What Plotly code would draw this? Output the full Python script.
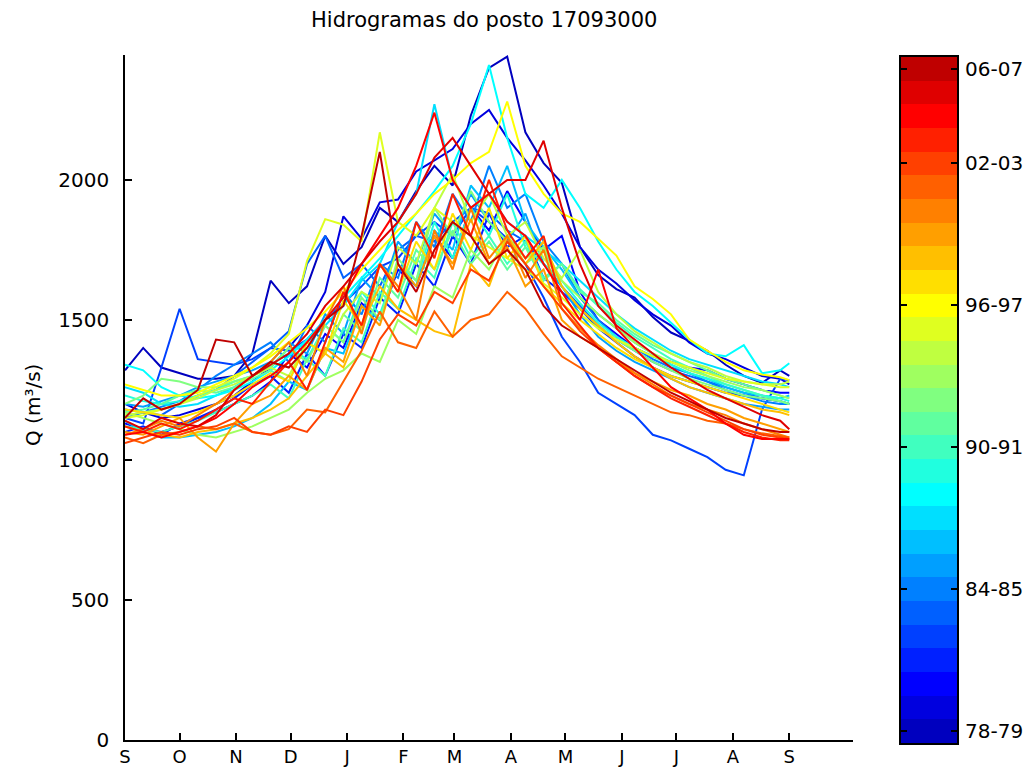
import math
import plotly.graph_objects as go

# Daily-flow hydrographs, one line per hydrological year (Sep -> Aug),
# sampled every 10 days from 1 September (day 0) plus the last day.
dias = list(range(0, 361, 10)) + [365]

anos = ["78-79", "79-80", "80-81", "81-82", "82-83", "83-84", "84-85", "85-86",
        "86-87", "87-88", "88-89", "89-90", "90-91", "91-92", "92-93", "93-94",
        "94-95", "95-96", "96-97", "97-98", "98-99", "99-00", "00-01", "01-02",
        "02-03", "03-04", "04-05", "05-06", "06-07"]

# Discharge Q (m3/s)
q_7879 = [1320, 1400, 1330, 1310, 1290, 1290, 1300, 1380, 1640, 1560,
          1620, 1800, 1700, 1760, 1900, 1850, 1960, 2050, 1980, 2230,
          2400, 2440, 2170, 2060, 1990, 1760, 1660, 1610, 1580, 1510,
          1455, 1425, 1390, 1340, 1300, 1275, 1320, 1300]
q_7980 = [1200, 1170, 1150, 1160, 1180, 1200, 1230, 1280, 1330, 1400,
          1480, 1600, 1870, 1790, 1920, 1930, 2030, 2070, 2110, 2200,
          2250, 2150, 2070, 1980, 1880, 1760, 1680, 1630, 1570, 1520,
          1480, 1420, 1380, 1360, 1330, 1300, 1290, 1270]
q_8081 = [1130, 1110, 1100, 1120, 1150, 1170, 1200, 1230, 1280, 1380,
          1330, 1450, 1400, 1560, 1500, 1680, 1620, 1800, 1720, 1900,
          1820, 1960, 1850, 1750, 1800, 1600, 1500, 1450, 1400, 1370,
          1350, 1330, 1320, 1290, 1270, 1250, 1240, 1240]
q_8182 = [1100, 1120, 1090, 1130, 1150, 1180, 1220, 1270, 1300, 1240,
          1380, 1300, 1450, 1400, 1580, 1520, 1700, 1620, 1800, 1700,
          1880, 1760, 1800, 1650, 1600, 1540, 1470, 1420, 1370, 1330,
          1300, 1280, 1260, 1240, 1230, 1220, 1210, 1200]
q_8283 = [1150, 1130, 1330, 1540, 1360, 1350, 1340, 1360, 1400, 1390,
          1430, 1500, 1560, 1620, 1690, 1720, 1800, 1850, 1800, 1900,
          1850, 1790, 1700, 1580, 1440, 1350, 1240, 1200, 1160, 1090,
          1070, 1040, 1010, 965, 945, 1180, 1290, 1285]
q_8384 = [1180, 1170, 1160, 1200, 1230, 1250, 1300, 1350, 1400, 1460,
          1700, 1800, 1650, 1700, 1620, 1750, 1800, 1780, 1850, 1900,
          1880, 1820, 1780, 1700, 1620, 1550, 1480, 1430, 1390, 1350,
          1320, 1300, 1280, 1260, 1240, 1220, 1210, 1200]
q_8485 = [1150, 1170, 1190, 1210, 1250, 1300, 1340, 1380, 1420, 1350,
          1480, 1420, 1600, 1520, 1700, 1650, 1850, 1760, 1950, 1850,
          2050, 1900, 1950, 1780, 1700, 1580, 1500, 1440, 1400, 1360,
          1330, 1310, 1280, 1250, 1230, 1210, 1200, 1200]
q_8586 = [1200, 1190, 1210, 1230, 1260, 1280, 1300, 1320, 1350, 1420,
          1380, 1520, 1450, 1650, 1580, 1780, 1700, 1880, 1800, 1950,
          1850, 1780, 1880, 1700, 1620, 1520, 1440, 1390, 1350, 1320,
          1290, 1260, 1240, 1220, 1200, 1190, 1180, 1180]
q_8687 = [1140, 1100, 1080, 1080, 1090, 1100, 1120, 1150, 1200, 1280,
          1250, 1400, 1380, 1550, 1500, 1700, 1620, 1820, 1750, 1980,
          1900, 2050, 1850, 1760, 1680, 1580, 1520, 1470, 1420, 1380,
          1340, 1310, 1290, 1260, 1240, 1230, 1220, 1230]
q_8788 = [1260, 1240, 1200, 1190, 1200, 1230, 1260, 1300, 1340, 1380,
          1420, 1480, 1550, 1640, 1700, 1850, 1950, 2270, 2000, 1900,
          1950, 1850, 1800, 1750, 1700, 1640, 1580, 1520, 1470, 1430,
          1390, 1360, 1340, 1320, 1300, 1280, 1270, 1260]
q_8889 = [1340, 1320, 1260, 1230, 1220, 1230, 1250, 1280, 1320, 1370,
          1430, 1500, 1580, 1650, 1720, 1800, 1880, 1960, 2050, 2200,
          2410, 2150, 1950, 1900, 2000, 1900, 1780, 1680, 1600, 1550,
          1490, 1430, 1380, 1370, 1410, 1310, 1320, 1345]
q_8990 = [1230, 1210, 1200, 1210, 1230, 1250, 1280, 1300, 1330, 1400,
          1360, 1480, 1420, 1600, 1520, 1700, 1640, 1850, 1720, 1900,
          1800, 1950, 1760, 1700, 1640, 1560, 1490, 1440, 1400, 1370,
          1340, 1310, 1290, 1270, 1250, 1230, 1220, 1210]
q_9091 = [1120, 1110, 1100, 1120, 1140, 1170, 1200, 1230, 1270, 1220,
          1360, 1300, 1470, 1420, 1600, 1540, 1720, 1650, 1850, 1720,
          1800, 1700, 1780, 1650, 1700, 1610, 1550, 1490, 1440, 1400,
          1360, 1330, 1300, 1270, 1250, 1230, 1210, 1200]
q_9192 = [1170, 1180, 1200, 1230, 1250, 1240, 1260, 1290, 1320, 1280,
          1420, 1380, 1520, 1460, 1650, 1580, 1750, 1680, 1820, 1700,
          1780, 1680, 1760, 1640, 1700, 1600, 1560, 1500, 1450, 1410,
          1380, 1350, 1320, 1290, 1270, 1250, 1230, 1220]
q_9293 = [1200, 1230, 1290, 1280, 1260, 1260, 1280, 1300, 1330, 1400,
          1350, 1480, 1420, 1580, 1500, 1720, 1640, 1900, 1800, 1960,
          1850, 1780, 1700, 1750, 1620, 1540, 1480, 1430, 1390, 1350,
          1320, 1290, 1270, 1250, 1230, 1220, 1210, 1200]
q_9394 = [1170, 1150, 1130, 1110, 1090, 1080, 1100, 1120, 1150, 1180,
          1240, 1290, 1320, 1380, 1350, 1500, 1450, 1620, 1580, 1750,
          1680, 1800, 1720, 1760, 1640, 1580, 1520, 1470, 1420, 1380,
          1350, 1320, 1300, 1280, 1260, 1250, 1230, 1220]
q_9495 = [1160, 1170, 1180, 1200, 1220, 1250, 1270, 1300, 1330, 1300,
          1420, 1380, 1520, 1600, 1560, 1760, 1700, 1900, 2020, 1850,
          1950, 1800, 1850, 1720, 1650, 1750, 1600, 1520, 1460, 1420,
          1380, 1350, 1330, 1300, 1280, 1270, 1270, 1280]
q_9596 = [1150, 1160, 1180, 1200, 1230, 1260, 1290, 1330, 1380, 1450,
          1710, 1860, 1840, 1780, 2170, 1850, 1800, 1900, 1850, 1800,
          1760, 1720, 1680, 1630, 1580, 1520, 1470, 1430, 1400, 1370,
          1350, 1330, 1310, 1290, 1280, 1270, 1260, 1260]
q_9697 = [1270, 1250, 1230, 1230, 1240, 1270, 1300, 1330, 1370, 1420,
          1470, 1530, 1600, 1680, 1750, 1820, 1880, 1950, 2000, 2060,
          2100, 2280, 2050, 1950, 1880, 1850, 1790, 1730, 1620, 1575,
          1520, 1430, 1390, 1350, 1320, 1305, 1295, 1285]
q_9798 = [1180, 1170, 1160, 1150, 1170, 1200, 1230, 1270, 1310, 1280,
          1420, 1380, 1570, 1480, 1700, 1600, 1780, 1680, 1880, 1750,
          1900, 1720, 1800, 1620, 1560, 1500, 1450, 1400, 1360, 1330,
          1300, 1280, 1260, 1240, 1220, 1200, 1180, 1170]
q_9899 = [1120, 1100, 1090, 1080, 1100, 1110, 1130, 1150, 1180, 1220,
          1300, 1380, 1330, 1480, 1620, 1540, 1500, 1460, 1440, 1700,
          1620, 1800, 1700, 1780, 1620, 1540, 1480, 1420, 1370, 1330,
          1290, 1260, 1240, 1220, 1200, 1180, 1170, 1160]
q_9900 = [1100, 1090, 1120, 1150, 1080, 1030, 1130, 1200, 1230, 1300,
          1250, 1400, 1350, 1550, 1480, 1700, 1620, 1800, 1700, 1860,
          1700, 1760, 1620, 1680, 1500, 1440, 1400, 1350, 1310, 1280,
          1250, 1230, 1200, 1180, 1150, 1130, 1110, 1100]
q_0001 = [1090, 1110, 1140, 1120, 1160, 1200, 1250, 1300, 1350, 1420,
          1300, 1500, 1620, 1450, 1700, 1620, 1500, 1820, 1680, 1900,
          1720, 1800, 1650, 1750, 1540, 1470, 1410, 1360, 1310, 1270,
          1230, 1200, 1180, 1160, 1130, 1110, 1090, 1080]
q_0102 = [1080, 1060, 1090, 1100, 1120, 1110, 1130, 1100, 1090, 1110,
          1180, 1170, 1280, 1390, 1530, 1420, 1400, 1530, 1440, 1500,
          1520, 1600, 1540, 1450, 1370, 1330, 1290, 1260, 1230, 1200,
          1170, 1160, 1140, 1130, 1110, 1095, 1085, 1080]
q_0203 = [1060, 1080, 1100, 1090, 1110, 1120, 1150, 1100, 1090, 1120,
          1100, 1180, 1160, 1280, 1430, 1520, 1480, 1600, 1560, 1680,
          1640, 1780, 1700, 1620, 1540, 1460, 1400, 1350, 1300, 1260,
          1230, 1200, 1170, 1140, 1110, 1090, 1080, 1075]
q_0304 = [1120, 1100, 1130, 1110, 1140, 1180, 1220, 1200, 1280, 1350,
          1250, 1420, 1600, 1480, 1700, 1600, 1850, 1720, 1950, 1800,
          2000, 1820, 1720, 1800, 1560, 1480, 1400, 1350, 1300, 1260,
          1220, 1190, 1160, 1130, 1100, 1080, 1070, 1070]
q_0405 = [1090, 1100, 1080, 1100, 1120, 1150, 1200, 1260, 1300, 1350,
          1420, 1500, 1580, 1700, 1800, 1900, 2050, 2240, 2000, 1900,
          1950, 1850, 1800, 1700, 1600, 1500, 1680, 1470, 1400, 1330,
          1260, 1220, 1180, 1130, 1090, 1075, 1075, 1075]
q_0506 = [1140, 1110, 1150, 1130, 1120, 1160, 1250, 1300, 1340, 1380,
          1450, 1550, 1620, 1700, 1780, 1850, 1950, 2080, 2150, 2050,
          1950, 2000, 2000, 2140, 1900, 1700, 1550, 1480, 1430, 1380,
          1330, 1290, 1250, 1220, 1190, 1160, 1140, 1110]
q_0607 = [1150, 1220, 1180, 1200, 1250, 1430, 1420, 1300, 1350, 1330,
          1400, 1500, 1550, 1800, 2100, 1700, 1600, 1750, 1850, 1800,
          1700, 1750, 1680, 1550, 1480, 1440, 1400, 1360, 1320, 1280,
          1240, 1210, 1180, 1150, 1130, 1110, 1100, 1100]

series = [q_7879, q_7980, q_8081, q_8182, q_8283, q_8384, q_8485, q_8586,
          q_8687, q_8788, q_8889, q_8990, q_9091, q_9192, q_9293, q_9394,
          q_9495, q_9596, q_9697, q_9798, q_9899, q_9900, q_0001, q_0102,
          q_0203, q_0304, q_0405, q_0506, q_0607]

# Month ticks (days from 1 September) and their labels
mes_dias = [0, 30, 61, 91, 122, 153, 181, 212, 242, 273, 303, 334, 365]
mes_rotulos = ["S", "O", "N", "D", "J", "F", "M", "A", "M", "J", "J", "A", "S"]
q_ticks = [0, 500, 1000, 1500, 2000]
barra_ticks = [0, 6, 12, 18, 24, 28]


def jet(m):
    """MATLAB-style jet colormap with m entries."""
    n = math.ceil(m / 4)
    u = [i / n for i in range(1, n + 1)] + [1.0] * (n - 1) + [i / n for i in range(n, 0, -1)]
    g0 = math.ceil(n / 2) - (1 if m % 4 == 1 else 0)
    rgb = [[0.0, 0.0, 0.0] for _ in range(m)]
    for k, val in enumerate(u):
        g = g0 + k + 1
        r, b = g + n, g - n
        if 1 <= r <= m:
            rgb[r - 1][0] = val
        if 1 <= g <= m:
            rgb[g - 1][1] = val
        if 1 <= b <= m:
            rgb[b - 1][2] = val
    return ["rgb(%d,%d,%d)" % tuple(round(255 * c) for c in row) for row in rgb]


W, H = 1025, 768
FONT = "DejaVu Sans, Verdana, sans-serif"
cores = jet(len(anos))

fig = go.Figure()
for ano, q, cor in zip(anos, series, cores):
    fig.add_trace(go.Scatter(x=dias, y=q, mode="lines", name=ano,
                             line=dict(color=cor, width=2),
                             showlegend=False, hoverinfo="skip"))

# Discrete colour bar, one band per year
m = len(anos)
escala = []
for i, cor in enumerate(cores):
    escala.append([i / m, cor])
    escala.append([(i + 1) / m, cor])
fig.add_trace(go.Heatmap(z=[[i] for i in range(m)], x=[0], y=list(range(m)),
                         colorscale=escala, zmin=-0.5, zmax=m - 0.5,
                         showscale=False, hoverinfo="skip",
                         xaxis="x2", yaxis="y2"))

fonte = dict(family=FONT, size=20, color="black")
eixo = dict(showgrid=False, zeroline=False, showline=True, linecolor="black",
            linewidth=1.5, ticks="inside", ticklen=7, tickwidth=1.5,
            tickcolor="black", automargin=False)

fig.update_layout(
    width=W, height=H,
    margin=dict(l=0, r=0, t=0, b=0, pad=0),
    paper_bgcolor="white", plot_bgcolor="white",
    xaxis=dict(eixo, domain=[125 / W, 853 / W], range=[0, 400],
               tickmode="array", tickvals=mes_dias, ticktext=mes_rotulos,
               tickfont=dict(family=FONT, size=18, color="black"),
               ticklabelstandoff=0),
    yaxis=dict(eixo, domain=[28 / H, 713 / H], range=[0, 2446],
               tickmode="array", tickvals=q_ticks, tickfont=fonte,
               ticktext=[str(v) for v in q_ticks], ticklabelstandoff=10),
    xaxis2=dict(domain=[901 / W, 957 / W], anchor="y2", range=[-0.5, 0.5],
                showgrid=False, zeroline=False, showticklabels=False,
                showline=True, mirror=True, linecolor="black", linewidth=2,
                ticks="", automargin=False),
    yaxis2=dict(domain=[25 / H, 711 / H], anchor="x2", side="right",
                range=[-0.5, m - 0.5], showgrid=False, zeroline=False,
                showline=True, mirror="ticks", linecolor="black", linewidth=2,
                ticks="inside", ticklen=6, tickwidth=1.5, tickcolor="black",
                tickmode="array", tickvals=barra_ticks,
                ticktext=[anos[i] for i in barra_ticks], tickfont=fonte,
                ticklabelstandoff=2, automargin=False),
    annotations=[
        dict(text="Hidrogramas do posto 17093000", x=484 / W, y=1 - 20 / H,
             xref="paper", yref="paper", showarrow=False,
             xanchor="center", yanchor="middle",
             font=dict(family=FONT, size=21, color="black")),
        dict(text="Q (m³/s)", x=33 / W, y=1 - 405 / H,
             xref="paper", yref="paper", showarrow=False, textangle=-90,
             xanchor="center", yanchor="middle", font=fonte),
    ],
)

fig.write_html("out.html")
